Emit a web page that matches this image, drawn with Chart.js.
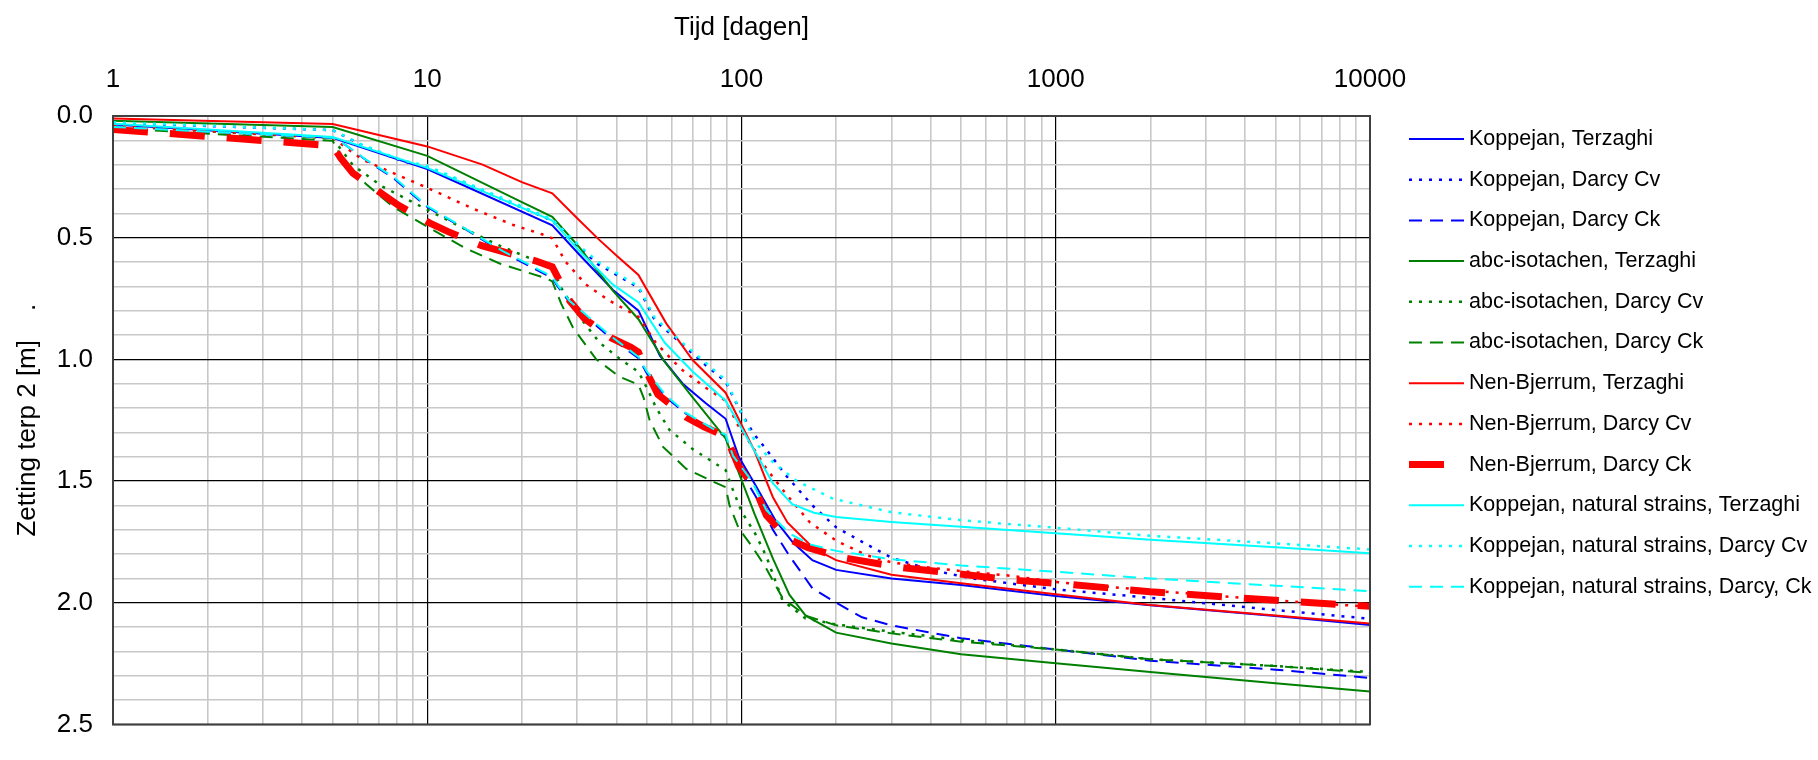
<!DOCTYPE html>
<html>
<head>
<meta charset="utf-8">
<title>Zetting terp 2</title>
<script src="https://cdn.jsdelivr.net/npm/chart.js@4.4.1/dist/chart.umd.min.js"></script>
<style>
  html, body { margin: 0; padding: 0; background: #fff; }
  canvas { display: block; }
</style>
</head>
<body>
<canvas id="chart" width="1818" height="760"></canvas>
<script>
// ─── Data: [tijd (dagen), zetting (m)] ──────────────────────────────────────

const xMajorTicks = [1, 10, 100, 1000, 10000];
const yMajorTicks = [0.0, 0.5, 1.0, 1.5, 2.0, 2.5];

const koppejanTerzaghi = [[1,0.035],[5,0.09],[10,0.218],[25,0.449],[30.5,0.57],[39,0.715],[47,0.8],[55,0.985],[65,1.1],[77,1.18],[89,1.244],[98,1.4],[110,1.51],[128,1.66],[146,1.754],[168,1.825],[200,1.865],[300,1.9],[500,1.927],[1000,1.972],[2000,2.01],[5000,2.055],[10000,2.092]];
const koppejanCv = [[1,0.028],[5,0.058],[6.2,0.12],[8.3,0.185],[10,0.21],[25,0.43],[30,0.533],[35,0.61],[47,0.705],[53,0.839],[64,0.932],[77,1.024],[89,1.091],[100,1.223],[110,1.31],[120,1.37],[138,1.475],[168,1.6],[200,1.69],[250,1.76],[300,1.815],[400,1.865],[540,1.9],[1000,1.945],[2000,1.98],[5000,2.03],[10000,2.066]];
const koppejanCk = [[1,0.045],[5,0.089],[5.5,0.12],[6.4,0.182],[7.8,0.255],[10,0.374],[13.3,0.467],[17.4,0.56],[25,0.666],[26,0.7],[28.4,0.766],[38,0.908],[47,0.995],[50,1.058],[57.6,1.157],[66.6,1.223],[81,1.29],[89,1.316],[92,1.383],[100,1.465],[113,1.58],[126,1.701],[142,1.807],[168,1.94],[200,2.0],[242,2.06],[300,2.093],[385,2.119],[500,2.146],[1000,2.192],[2000,2.238],[5000,2.275],[10000,2.309]];

const abcTerzaghi = [[1,0.02],[5,0.045],[10,0.164],[20,0.354],[25,0.414],[30.5,0.54],[39,0.719],[47,0.835],[57,1.011],[70,1.157],[89,1.325],[110,1.635],[126,1.82],[142,1.967],[160,2.053],[200,2.123],[300,2.168],[500,2.212],[1000,2.249],[2000,2.285],[5000,2.331],[10000,2.365]];
const abcCv = [[1,0.04],[5,0.092],[5.8,0.202],[7.2,0.29],[10,0.385],[13.3,0.467],[17,0.533],[24,0.613],[25,0.625],[26.7,0.706],[30.5,0.825],[35.4,0.932],[41,0.998],[47,1.051],[50,1.117],[53.4,1.197],[59,1.29],[70,1.369],[83,1.43],[89,1.455],[93.5,1.53],[100,1.625],[111,1.72],[120,1.81],[135,1.99],[160,2.065],[200,2.089],[300,2.119],[500,2.153],[1000,2.192],[2000,2.232],[5000,2.26],[10000,2.285]];
const abcCk = [[1,0.05],[5,0.102],[5.4,0.182],[6.4,0.281],[7.8,0.374],[10,0.455],[13.3,0.545],[17,0.606],[24,0.668],[25,0.68],[26.7,0.772],[29.1,0.87],[34.5,1.0],[40.9,1.071],[47,1.104],[48.8,1.157],[51,1.25],[56.3,1.36],[66.6,1.449],[81,1.502],[89,1.525],[91.6,1.6],[98,1.695],[106,1.754],[113,1.807],[120,1.86],[135,1.98],[160,2.053],[200,2.093],[300,2.126],[500,2.16],[1000,2.192],[2000,2.232],[5000,2.26],[10000,2.288]];

const nenTerzaghi = [[1,0.01],[5,0.033],[10,0.125],[15,0.2],[20,0.272],[25,0.318],[30,0.42],[35,0.505],[40,0.573],[47,0.653],[57.6,0.852],[70,1.004],[89,1.137],[110,1.376],[120,1.5],[126,1.568],[140,1.67],[170,1.778],[200,1.825],[300,1.885],[500,1.92],[1000,1.965],[2000,2.009],[5000,2.053],[10000,2.085]];
const nenCv = [[1,0.04],[5,0.09],[6.2,0.178],[7.5,0.225],[10,0.295],[14,0.381],[18.7,0.447],[23.3,0.487],[25,0.503],[27.6,0.6],[32,0.693],[38,0.759],[47,0.825],[53.4,0.932],[64,1.038],[77,1.117],[89,1.17],[98,1.276],[108,1.356],[120,1.449],[138,1.55],[165,1.67],[200,1.745],[250,1.805],[300,1.834],[385,1.854],[500,1.87],[730,1.89],[1000,1.915],[2000,1.95],[5000,1.99],[10000,2.017]];
const nenCk = [[1,0.055],[5,0.122],[5.3,0.172],[5.8,0.235],[7.2,0.321],[8.1,0.367],[10.2,0.44],[11.6,0.474],[14.9,0.533],[17.4,0.557],[22.2,0.596],[25,0.62],[28.4,0.759],[31.6,0.832],[38.5,0.912],[44.5,0.951],[47,0.97],[50.4,1.064],[54.2,1.144],[66.6,1.237],[76,1.277],[89,1.317],[91.5,1.35],[98,1.44],[110,1.525],[120,1.641],[141,1.738],[163,1.774],[208,1.814],[316,1.854],[480,1.88],[730,1.907],[1100,1.924],[2000,1.955],[5000,1.99],[10000,2.015]];

const natTerzaghi = [[1,0.032],[5,0.086],[10,0.213],[25,0.43],[30.5,0.555],[39,0.693],[47,0.766],[57,0.932],[70,1.051],[89,1.17],[110,1.376],[126,1.51],[145,1.595],[170,1.63],[200,1.648],[300,1.668],[500,1.688],[1000,1.715],[2000,1.741],[5000,1.772],[10000,1.797]];
const natCv = [[1,0.026],[5,0.058],[6.2,0.118],[8.3,0.182],[10,0.205],[25,0.425],[30,0.525],[35,0.6],[47,0.7],[53,0.83],[64,0.925],[77,1.015],[89,1.085],[98,1.197],[111,1.343],[126,1.423],[150,1.5],[195,1.572],[300,1.628],[500,1.661],[1000,1.692],[2000,1.725],[5000,1.756],[10000,1.781]];
const natCk = [[1,0.045],[5,0.089],[5.5,0.12],[6.4,0.18],[7.8,0.25],[10,0.37],[13.3,0.465],[17.4,0.555],[25,0.66],[26,0.695],[28.4,0.76],[38,0.9],[47,0.99],[50,1.05],[57.6,1.15],[66.6,1.22],[81,1.285],[89,1.31],[94,1.396],[108,1.502],[120,1.62],[142,1.715],[165,1.76],[200,1.787],[300,1.821],[500,1.847],[1000,1.873],[2000,1.9],[5000,1.93],[10000,1.953]];

// ─── Styles ─────────────────────────────────────────────────────────────────

const BLUE = '#0000ff', GREEN = '#008000', RED = '#ff0000', CYAN = '#00ffff';
const SOLID = [], DOTTED = [3, 7], DASHED = [13, 8];
const FONT = "'Liberation Sans', Arial, sans-serif";

const series = [
  { label: 'Koppejan, Terzaghi',                    data: koppejanTerzaghi, color: BLUE,  dash: SOLID,  width: 2 },
  { label: 'Koppejan, Darcy Cv',                    data: koppejanCv,       color: BLUE,  dash: DOTTED, width: 2.5 },
  { label: 'Koppejan, Darcy Ck',                    data: koppejanCk,       color: BLUE,  dash: DASHED, width: 2 },
  { label: 'abc-isotachen, Terzaghi',               data: abcTerzaghi,      color: GREEN, dash: SOLID,  width: 2 },
  { label: 'abc-isotachen, Darcy Cv',               data: abcCv,            color: GREEN, dash: DOTTED, width: 2.5 },
  { label: 'abc-isotachen, Darcy Ck',               data: abcCk,            color: GREEN, dash: DASHED, width: 2 },
  { label: 'Nen-Bjerrum, Terzaghi',                 data: nenTerzaghi,      color: RED,   dash: SOLID,  width: 2 },
  { label: 'Nen-Bjerrum, Darcy Cv',                 data: nenCv,            color: RED,   dash: DOTTED, width: 2.5 },
  { label: 'Nen-Bjerrum, Darcy Ck',                 data: nenCk,            color: RED,   dash: [35, 22], width: 7 },
  { label: 'Koppejan, natural strains, Terzaghi',   data: natTerzaghi,      color: CYAN,  dash: SOLID,  width: 2 },
  { label: 'Koppejan, natural strains, Darcy Cv',   data: natCv,            color: CYAN,  dash: DOTTED, width: 2.5 },
  { label: 'Koppejan, natural strains, Darcy, Ck',  data: natCk,            color: CYAN,  dash: DASHED, width: 2 },
];

const isMajorX = v => xMajorTicks.includes(v);
const isMajorY = v => yMajorTicks.some(m => Math.abs(m - v) < 1e-6);

// plot frame + legend on the right
const frameAndLegend = {
  id: 'frameAndLegend',
  afterDraw(chart) {
    const { ctx, chartArea: a } = chart;
    ctx.save();
    ctx.strokeStyle = '#404040';
    ctx.lineWidth = 2;
    ctx.setLineDash([]);
    ctx.strokeRect(a.left, a.top, a.right - a.left, a.bottom - a.top);

    ctx.font = `21.5px ${FONT}`;
    ctx.textBaseline = 'middle';
    ctx.textAlign = 'left';
    series.forEach((s, i) => {
      const y = 139 + i * 40.7;
      ctx.strokeStyle = s.color;
      ctx.lineWidth = s.width;
      ctx.lineCap = 'butt';
      ctx.setLineDash(s.dash);
      ctx.beginPath();
      ctx.moveTo(a.right + 39, y);
      ctx.lineTo(a.right + 94, y);
      ctx.stroke();
      ctx.fillStyle = '#000';
      ctx.fillText(s.label, a.right + 99, y);
    });
    ctx.restore();
  },
};

new Chart(document.getElementById('chart'), {
  type: 'line',
  data: {
    datasets: series.map((s, i) => ({
      label: s.label,
      data: s.data.map(([x, y]) => ({ x, y })),
      borderColor: s.color,
      backgroundColor: s.color,
      borderWidth: s.width,
      borderDash: s.dash,
      pointRadius: 0,
      tension: 0,
      fill: false,
      order: -i,
    })),
  },
  options: {
    responsive: false,
    animation: false,
    devicePixelRatio: 1,
    layout: { padding: { left: 0, top: 0, right: 448, bottom: 16 } },
    plugins: { legend: { display: false }, tooltip: { enabled: false } },
    scales: {
      x: {
        type: 'logarithmic',
        position: 'top',
        min: 1, max: 10000,
        afterBuildTicks: scale => {
          const vals = [];
          for (let k = 0; k < 4; k++) for (let m = 1; m < 10; m++) vals.push(m * 10 ** k);
          vals.push(10000);
          scale.ticks = vals.map(v => ({ value: v }));
        },
        afterFit: scale => { scale.height = 116; },
        ticks: {
          autoSkip: false, maxRotation: 0, padding: 21, color: '#000',
          font: { size: 26, family: FONT },
          callback: v => isMajorX(v) ? String(v) : '',
        },
        grid: {
          drawTicks: false,
          color: ctx => isMajorX(ctx.tick.value) ? '#000' : '#c8c8c8',
          lineWidth: ctx => isMajorX(ctx.tick.value) ? 1.2 : 1.6,
        },
        border: { display: true, color: '#404040', width: 2 },
        title: {
          display: true, text: 'Tijd [dagen]', color: '#000',
          font: { size: 26, family: FONT }, padding: { top: 12, bottom: 0 },
        },
      },
      y: {
        type: 'linear',
        reverse: true,
        min: 0, max: 2.5,
        afterBuildTicks: scale => {
          scale.ticks = Array.from({ length: 26 }, (_, i) => ({ value: i / 10 }));
        },
        afterFit: scale => { scale.width = 113; },
        ticks: {
          autoSkip: false, padding: 20, color: '#000',
          font: { size: 26, family: FONT },
          callback: v => isMajorY(v) ? v.toFixed(1) : '',
        },
        grid: {
          drawTicks: false,
          color: ctx => isMajorY(ctx.tick.value) ? '#000' : '#c8c8c8',
          lineWidth: ctx => isMajorY(ctx.tick.value) ? 1.2 : 1.6,
        },
        border: { display: true, color: '#404040', width: 2 },
        title: {
          display: true, text: 'Zetting terp 2 [m]    .', color: '#000',
          font: { size: 26, family: FONT }, padding: { top: 12, bottom: 0 },
        },
      },
    },
  },
  plugins: [frameAndLegend],
});
</script>
</body>
</html>
